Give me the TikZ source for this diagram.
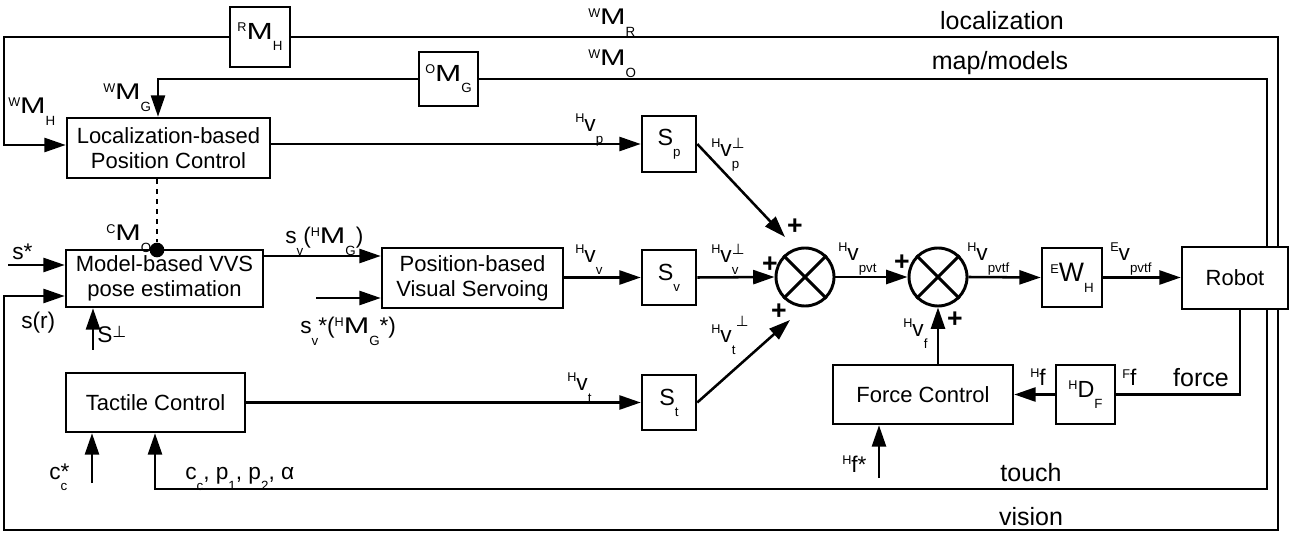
\documentclass[tikz,border=0pt]{standalone}
\usepackage{graphicx}
\usepackage{fontspec}
\setmainfont{Liberation Sans}
\newfontfamily\symfont{DejaVu Sans}
\usetikzlibrary{arrows.meta}

% superscript / subscript placed before or after a large symbol
\newcommand{\sps}[1]{\raisebox{5.8pt}{\fontsize{9.5}{9.5}\selectfont #1}}
\newcommand{\spv}[1]{\raisebox{7.3pt}{\fontsize{9.5}{9.5}\selectfont #1}}
\newcommand{\sbs}[1]{\raisebox{-8.3pt}{\fontsize{10}{10}\selectfont #1}}
\newcommand{\wM}{\scalebox{1.35}[1]{M}}
\newcommand{\perpmark}{{\symfont ⊥}}
% v with a lower index and a perpendicular mark stacked after it
\newcommand{\vperp}[1]{v\rlap{\sbs{#1}}\raisebox{6.5pt}{\fontsize{11}{11}\selectfont\perpmark}}

\tikzset{
  box/.style={draw, line width=1.9pt, inner sep=0pt, align=center,
              font=\fontsize{16.5}{18.75}\selectfont},
  symbox/.style={box, font=\fontsize{17.5}{18}\selectfont},
  wire/.style={line width=1.9pt},
  arr/.style={wire, -{Triangle[length=16pt,width=10.5pt]}},
  lab/.style={inner sep=0pt, anchor=base west, font=\fontsize{17}{18}\selectfont},
  word/.style={inner sep=0pt, anchor=base, font=\fontsize{18.75}{20}\selectfont},
  plus/.style={inner sep=0pt, font=\fontsize{20}{20}\selectfont\bfseries},
  sumnode/.style={draw, circle, line width=2.2pt, minimum size=43.5pt, inner sep=0pt},
  junction/.style={fill, circle, minimum size=11pt, inner sep=0pt},
  dottedwire/.style={line width=1.9pt, dash pattern=on 3.75pt off 3.75pt}
}

\begin{document}
\begin{tikzpicture}[x=0.75pt, y=-0.75pt]
\fill[white] (0,0) rectangle (1300,538);
\useasboundingbox (0,0) rectangle (1300,538);

% ---------- blocks ----------
\node[symbox, minimum width=45pt, minimum height=45pt] (rmh) at (260,37) {\sps{R}\wM\sbs{H}};
\node[symbox, minimum width=44.25pt, minimum height=40.5pt] (omg) at (448.5,79) {\sps{O}\wM\sbs{G}};
\node[box, minimum width=152.25pt, minimum height=45pt] (loc) at (168.5,148) {Localization-based\\Position Control};
\node[box, minimum width=147.75pt, minimum height=42.75pt] (mvvs) at (164.5,278.5) {Model-based VVS\\pose estimation};
\node[box, minimum width=135.75pt, minimum height=45pt] (pbvs) at (472.5,278) {Position-based\\Visual Servoing};
\node[box, minimum width=134.25pt, minimum height=44.25pt] (tac) at (155.5,402.5) {Tactile Control};
\node[symbox, minimum width=40.5pt, minimum height=42pt] (sp) at (669,144) {S\sbs{p}};
\node[symbox, minimum width=40.5pt, minimum height=41.25pt] (sv) at (669,277.5) {S\sbs{v}};
\node[symbox, minimum width=40.5pt, minimum height=41.25pt] (st) at (669,402.5) {S\sbs{t}};
\node[sumnode] (c1) at (805,277) {};
\node[sumnode] (c2) at (938,277) {};
\node[symbox, minimum width=45pt, minimum height=44.25pt] (ewh) at (1072,277.5) {\sps{E}{\fontsize{20}{20}\selectfont W}\sbs{H}};
\node[box, minimum width=79.5pt, minimum height=46.5pt] (robot) at (1235,278) {Robot};
\node[box, minimum width=135pt, minimum height=44.25pt] (fc) at (923,394.5) {Force Control};
\node[symbox, minimum width=44.25pt, minimum height=44.25pt] (hdf) at (1085.5,394.5) {\sps{H}D\sbs{F}};
\node[junction] (dot) at (157,250) {};

% crossing marks of the summing junctions
\foreach \c in {c1,c2}{
  \draw[line width=2.2pt] (\c.north west) -- (\c.south east);
  \draw[line width=2.2pt] (\c.north east) -- (\c.south west);
}

% ---------- helper points ----------
\coordinate (xo) at (1278,37);    % localization / vision column
\coordinate (xm) at (1267,79);    % map/models / touch column
\coordinate (xf) at (1240,394);   % force column
\coordinate (lcorner) at (4,145);
\coordinate (gx) at (158,79);
\coordinate (sstar) at (8,265);
\coordinate (vbl) at (4,530);
\coordinate (vtl) at (4,296);
\coordinate (sperp) at (93,350);
\coordinate (vy) at (0,256);
\coordinate (svs) at (316,298);
\coordinate (tipA) at (785,237);
\coordinate (tipB) at (790,320);
\coordinate (hfs) at (879,478);
\coordinate (tl) at (155,489);
\coordinate (ccs) at (92,483);

% ---------- connectors ----------
\draw[wire] (robot.north -| xo) -- (xo) -- (rmh.east);
\draw[arr] (rmh.west) -| (lcorner) -- (lcorner -| loc.west);
\draw[wire] (robot.north -| xm) -- (xm) -- (omg.east);
\draw[arr] (omg.west) -- (gx) -- (gx |- loc.north);
\draw[arr] (loc.east |- sp.west) -- (sp.west);
\draw[dottedwire] (dot |- loc.south) -- (dot);
\draw[arr] (sstar) -- (sstar -| mvvs.west);
\draw[arr] (robot.south -| xo) |- (vbl) -- (vtl) -- (vtl -| mvvs.west);
\draw[arr] (sperp) -- (sperp |- mvvs.south);
\draw[arr] (mvvs.east |- vy) -- (pbvs.west |- vy);
\draw[arr] (svs) -- (svs -| pbvs.west);
\draw[arr] (pbvs.east |- sv.west) -- (sv.west);
\draw[arr] (sv.east) -- (c1.west);
\draw[arr] (sp.east) -- (tipA);
\draw[arr] (st.east) -- (tipB);
\draw[arr] (c1.east) -- (c2.west);
\draw[arr] (c2.east) -- (ewh.west);
\draw[arr] (ewh.east) -- (robot.west |- ewh.east);
\draw[arr] (c2 |- fc.north) -- (c2.south);
\draw[wire] (robot.south -| xf) |- (hdf.east);
\draw[arr] (hdf.west) -- (fc.east);
\draw[arr] (hfs) -- (hfs |- fc.south);
\draw[arr] (robot.south -| xm) |- (tl) -- (tl |- tac.south);
\draw[arr] (ccs) -- (ccs |- tac.south);
\draw[arr] (tac.east |- st.west) -- (st.west);

% ---------- signal labels ----------
\node[lab] (lwmr) at (588,25) {\sps{W}\wM\sbs{R}};
\node[lab] (lwmo) at (588,66) {\sps{W}\wM\sbs{O}};
\node[word] (tloc) at (1002,30) {localization};
\node[word] (tmap) at (1000,70) {map/models};
\node[lab] (lwmg) at (103,100) {\sps{W}\wM\sbs{G}};
\node[lab] (lwmh) at (8,114) {\sps{W}\wM\sbs{H}};
\node[lab] (lcmo) at (106,241) {\sps{C}\wM\sbs{O}};
\node[lab] (lsst) at (12,260) {s*};
\node[lab] (lsr) at (21,329) {s(r)};
\node[lab] (lsperp) at (97,343) {S\raisebox{4pt}{\fontsize{12}{12}\selectfont\perpmark}};
\node[lab] (lsvh) at (285,244) {s\sbs{v}(\sps{H}\wM\sbs{G})};
\node[lab] (lsvs) at (300,334) {s\rlap{\sbs{v}}\hspace{5pt}*(\sps{H}\wM\sbs{G}*)};
\node[lab] (lhvp) at (575,132) {\spv{H}v\sbs{p}};
\node[lab] (lhvpp) at (711,157) {\spv{H}\vperp{p}};
\node[lab] (lhvv) at (575,263) {\spv{H}v\sbs{v}};
\node[lab] (lhvvp) at (711,263) {\spv{H}\vperp{v}};
\node[lab] (lhvt) at (567,391) {\spv{H}v\sbs{t}};
\node[lab] (lhvtp) at (711,343) {\spv{H}v\rlap{\sbs{t}}\raisebox{12pt}{\fontsize{11}{11}\selectfont\hspace{3pt}\perpmark}};
\node[lab] (lhvpvt) at (838,261) {\spv{H}v\sbs{pvt}};
\node[lab] (lhvpvtf) at (967,261) {\spv{H}v\sbs{pvtf}};
\node[lab] (levpvtf) at (1110,261) {\spv{E}v\sbs{pvtf}};
\node[lab] (lhvf) at (903,337) {\spv{H}v\sbs{f}};
\node[lab] (lhf) at (1030,385) {\sps{H}f};
\node[lab] (lff) at (1122,386) {\sps{F}f};
\node[word] (tforce) at (1201,387) {force};
\node[lab] (lhfs) at (842,472) {\sps{H}f*};
\node[word] (ttouch) at (1031,481) {touch};
\node[word] (tvision) at (1031,525) {vision};
\node[lab] (lccs) at (49,479) {c\rlap{\sbs{c}}*};
\node[lab] (lcp) at (185,479) {c\sbs{c}, p\sbs{1}, p\sbs{2}, α};

% signs at the summing junctions
\node[plus] (pa) at (795,227) {+};
\node[plus] (pb) at (770,265) {+};
\node[plus] (pc) at (779,312) {+};
\node[plus] (pd) at (902,263) {+};
\node[plus] (pe) at (955,320) {+};
\end{tikzpicture}
\end{document}
